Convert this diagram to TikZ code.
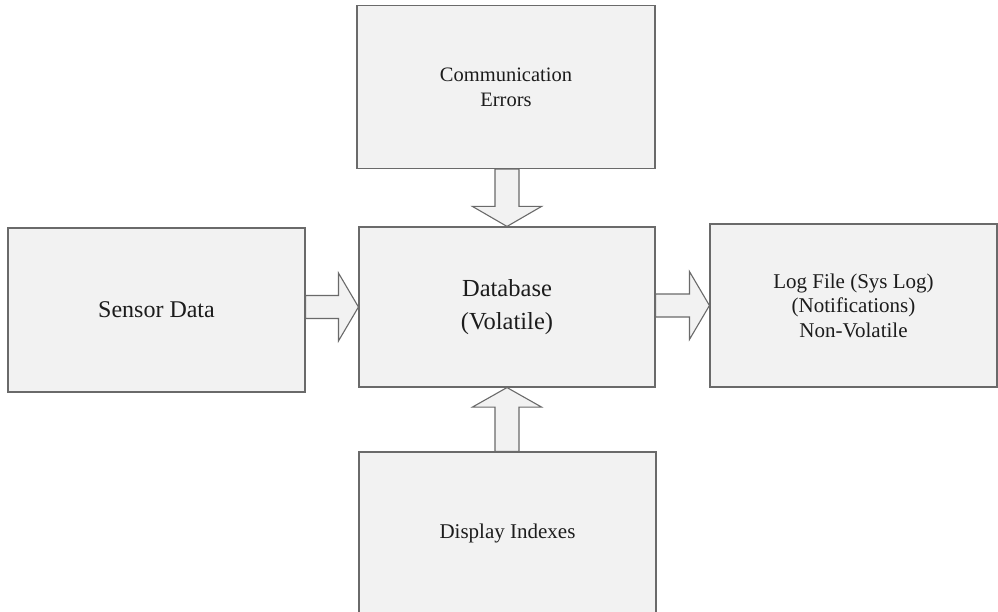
\documentclass[tikz,border=0pt]{standalone}
\usepackage{fontspec}
\setmainfont{Liberation Serif}
\usetikzlibrary{calc}

\definecolor{boxfill}{HTML}{F2F2F2}
\definecolor{boxline}{HTML}{6A6A6A}
\definecolor{inktext}{HTML}{1C1C1C}

\tikzset{
  block/.style={draw=boxline, fill=boxfill, line width=1.1pt, inner sep=0pt,
                align=center, text=inktext},
  fat/.style={draw=boxline, fill=boxfill, line width=1.1pt, line join=miter},
}

% Hollow block arrow pointing right, from the east side of #1 to the west side of #2
\newcommand\fatarrowright[2]{%
  \coordinate (fa-s) at (#1.east |- #2.west);
  \coordinate (fa-t) at (#2.west);
  \draw[fat] ($(fa-s)+(0,-11.5)$) -- ($(fa-t)+(-20,-11.5)$) -- ($(fa-t)+(-20,-34)$)
    -- (fa-t) -- ($(fa-t)+(-20,34)$) -- ($(fa-t)+(-20,11.5)$) -- ($(fa-s)+(0,11.5)$) -- cycle;}

% Hollow block arrow from the south side of #1 down to the north side of #2
\newcommand\fatarrowdown[2]{%
  \coordinate (fa-s) at (#1.south -| #2.north);
  \coordinate (fa-t) at (#2.north);
  \draw[fat] ($(fa-s)+(-12,0)$) -- ($(fa-t)+(-12,-20)$) -- ($(fa-t)+(-34.5,-20)$)
    -- (fa-t) -- ($(fa-t)+(34.5,-20)$) -- ($(fa-t)+(12,-20)$) -- ($(fa-s)+(12,0)$) -- cycle;}

% Hollow block arrow from the north side of #1 up to the south side of #2
\newcommand\fatarrowup[2]{%
  \coordinate (fa-s) at (#1.north -| #2.south);
  \coordinate (fa-t) at (#2.south);
  \draw[fat] ($(fa-s)+(-12,0)$) -- ($(fa-t)+(-12,19.5)$) -- ($(fa-t)+(-34.5,19.5)$)
    -- (fa-t) -- ($(fa-t)+(34.5,19.5)$) -- ($(fa-t)+(12,19.5)$) -- ($(fa-s)+(12,0)$) -- cycle;}

\begin{document}
\begin{tikzpicture}[x=1pt, y=-1pt]
  \useasboundingbox (0,0) rectangle (998,612);

  \node[block, minimum width=296pt, minimum height=160pt,
        font=\fontsize{24.5}{33}\selectfont] (db) at (507,307) {Database\\(Volatile)};
  \node[block, minimum width=297pt, minimum height=164pt,
        font=\fontsize{24}{30}\selectfont] (sensor) at (156.5,310) {Sensor Data};
  \node[block, minimum width=287pt, minimum height=163pt,
        font=\fontsize{21}{24.5}\selectfont] (log) at (853.5,305.5)
        {Log File (Sys Log)\\(Notifications)\\Non-Volatile};
  \node[block, minimum width=298pt, minimum height=163pt,
        font=\fontsize{20.5}{25}\selectfont] (comm) at (506,87)
        {Communication\\Errors};
  \node[block, minimum width=297pt, minimum height=162pt,
        font=\fontsize{21}{25}\selectfont] (disp) at (507.5,533) {Display Indexes};

  \fatarrowright{sensor}{db}
  \fatarrowright{db}{log}
  \fatarrowdown{comm}{db}
  \fatarrowup{disp}{db}
\end{tikzpicture}
\end{document}
